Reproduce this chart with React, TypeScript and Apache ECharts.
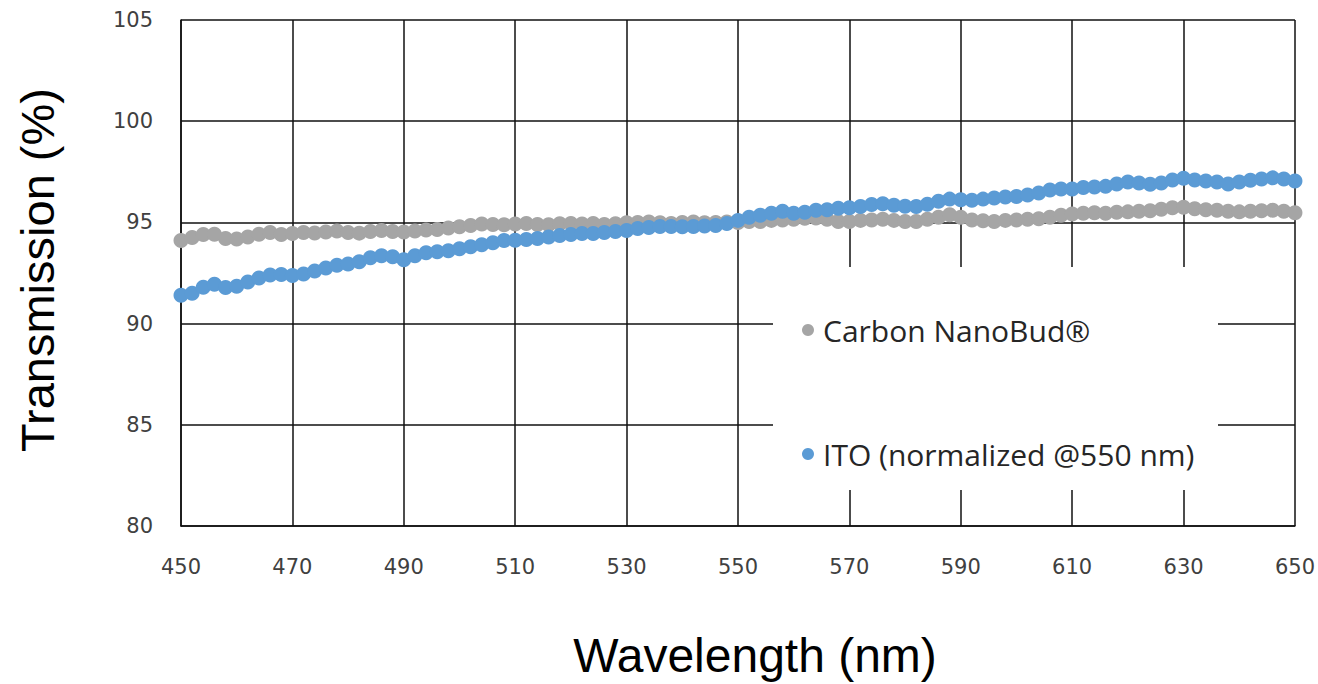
import React, { useEffect, useRef } from "react";
import * as echarts from "echarts";

const wavelengths: number[] = [];
for (let w = 450; w <= 650; w += 2) wavelengths.push(w);

const carbonNanoBud = [
  94.10, 94.25, 94.40, 94.42, 94.20, 94.18, 94.28, 94.42, 94.50, 94.40,
  94.45, 94.50, 94.48, 94.52, 94.58, 94.50, 94.47, 94.55, 94.60, 94.55,
  94.52, 94.58, 94.62, 94.65, 94.72, 94.78, 94.85, 94.92, 94.90, 94.88,
  94.92, 94.95, 94.90, 94.88, 94.93, 94.95, 94.92, 94.95, 94.90, 94.93,
  94.98, 95.00, 95.02, 94.98, 94.95, 95.00, 95.02, 94.98, 95.00, 95.02,
  95.00, 95.05, 95.05, 95.10, 95.12, 95.15, 95.20, 95.22, 95.15, 95.05,
  95.05, 95.10, 95.12, 95.15, 95.10, 95.05, 95.05, 95.15, 95.25, 95.38,
  95.25, 95.12, 95.08, 95.05, 95.10, 95.12, 95.15, 95.18, 95.25, 95.35,
  95.42, 95.45, 95.48, 95.45, 95.50, 95.52, 95.55, 95.58, 95.65, 95.72,
  95.75, 95.68, 95.62, 95.60, 95.55, 95.52, 95.55, 95.58, 95.60, 95.55,
  95.48,
];

const itoNormalized = [
  91.40, 91.50, 91.80, 91.95, 91.78, 91.85, 92.05, 92.25, 92.40, 92.42,
  92.38, 92.45, 92.60, 92.75, 92.88, 92.95, 93.05, 93.25, 93.35, 93.30,
  93.15, 93.35, 93.50, 93.55, 93.60, 93.70, 93.80, 93.90, 94.00, 94.10,
  94.12, 94.15, 94.20, 94.28, 94.35, 94.40, 94.45, 94.45, 94.50, 94.55,
  94.60, 94.70, 94.75, 94.80, 94.80, 94.78, 94.80, 94.82, 94.85, 94.95,
  95.10, 95.25, 95.35, 95.45, 95.55, 95.45, 95.50, 95.60, 95.62, 95.70,
  95.72, 95.78, 95.88, 95.92, 95.85, 95.80, 95.78, 95.90, 96.05, 96.15,
  96.12, 96.10, 96.15, 96.20, 96.25, 96.28, 96.35, 96.45, 96.60, 96.65,
  96.65, 96.72, 96.75, 96.78, 96.90, 97.00, 96.95, 96.88, 96.95, 97.10,
  97.18, 97.10, 97.05, 97.00, 96.90, 97.00, 97.08, 97.15, 97.20, 97.15,
  97.05,
];

const seriesNames = ["Carbon NanoBud®", "ITO (normalized @550 nm)"];
const xTitle = "Wavelength (nm)";
const yTitle = "Transmission (%)";

export default function App() {
  const ref = useRef<HTMLDivElement>(null);
  useEffect(() => {
    if (!ref.current) return;
    const chart = echarts.init(ref.current, undefined, { renderer: "svg" });
    const gridColor = "#111";
    const labelStyle = {
      fontFamily: "DejaVu Sans",
      fontSize: 21,
      color: "#404040",
    };
    chart.setOption({
      animation: false,
      backgroundColor: "#fff",
      grid: { left: 181, right: 22, top: 20, bottom: 158 },
      xAxis: {
        type: "value",
        min: 450,
        max: 650,
        interval: 20,
        axisLine: { show: true, lineStyle: { color: gridColor, width: 1.5 } },
        axisTick: { show: false },
        splitLine: { show: true, lineStyle: { color: gridColor, width: 1.5 } },
        axisLabel: { ...labelStyle, margin: 30 },
      },
      yAxis: {
        type: "value",
        min: 80,
        max: 105,
        interval: 5,
        axisLine: { show: true, lineStyle: { color: gridColor, width: 1.5 } },
        axisTick: { show: false },
        splitLine: { show: true, lineStyle: { color: gridColor, width: 1.5 } },
        axisLabel: { ...labelStyle, margin: 28 },
      },
      legend: {
        orient: "vertical",
        left: 797,
        top: 310,
        itemGap: 94,
        itemWidth: 20,
        itemHeight: 12,
        z: 10,
        icon: "circle",
        textStyle: {
          fontFamily: "Open Sans",
          fontSize: 30,
          color: "#262626",
          lineHeight: 30,
        },
        data: seriesNames,
      },
      graphic: [
        {
          type: "rect",
          z: 5,
          shape: { x: 773, y: 267, width: 445, height: 223 },
          style: { fill: "#fff" },
        },
        {
          type: "text",
          x: 37,
          y: 270,
          rotation: Math.PI / 2,
          style: {
            text: yTitle,
            fontFamily: "Liberation Sans",
            fontSize: 47,
            fill: "#000",
            textAlign: "center",
            textVerticalAlign: "middle",
          },
        },
        {
          type: "text",
          x: 755,
          y: 655,
          style: {
            text: xTitle,
            fontFamily: "Liberation Sans",
            fontSize: 48,
            fill: "#000",
            textAlign: "center",
            textVerticalAlign: "middle",
          },
        },
      ],
      series: [
        {
          name: seriesNames[0],
          type: "scatter",
          symbol: "circle",
          symbolSize: 15,
          itemStyle: { color: "#A5A5A5", opacity: 1 },
          data: wavelengths.map((w, i) => [w, carbonNanoBud[i]]),
        },
        {
          name: seriesNames[1],
          type: "scatter",
          symbol: "circle",
          symbolSize: 15,
          itemStyle: { color: "#5B9BD5", opacity: 1 },
          data: wavelengths.map((w, i) => [w, itoNormalized[i]]),
        },
      ],
    });
    return () => chart.dispose();
  }, []);
  return (
    <div
      ref={ref}
      style={{ position: "fixed", left: 0, top: 0, width: 1318, height: 684 }}
    />
  );
}
